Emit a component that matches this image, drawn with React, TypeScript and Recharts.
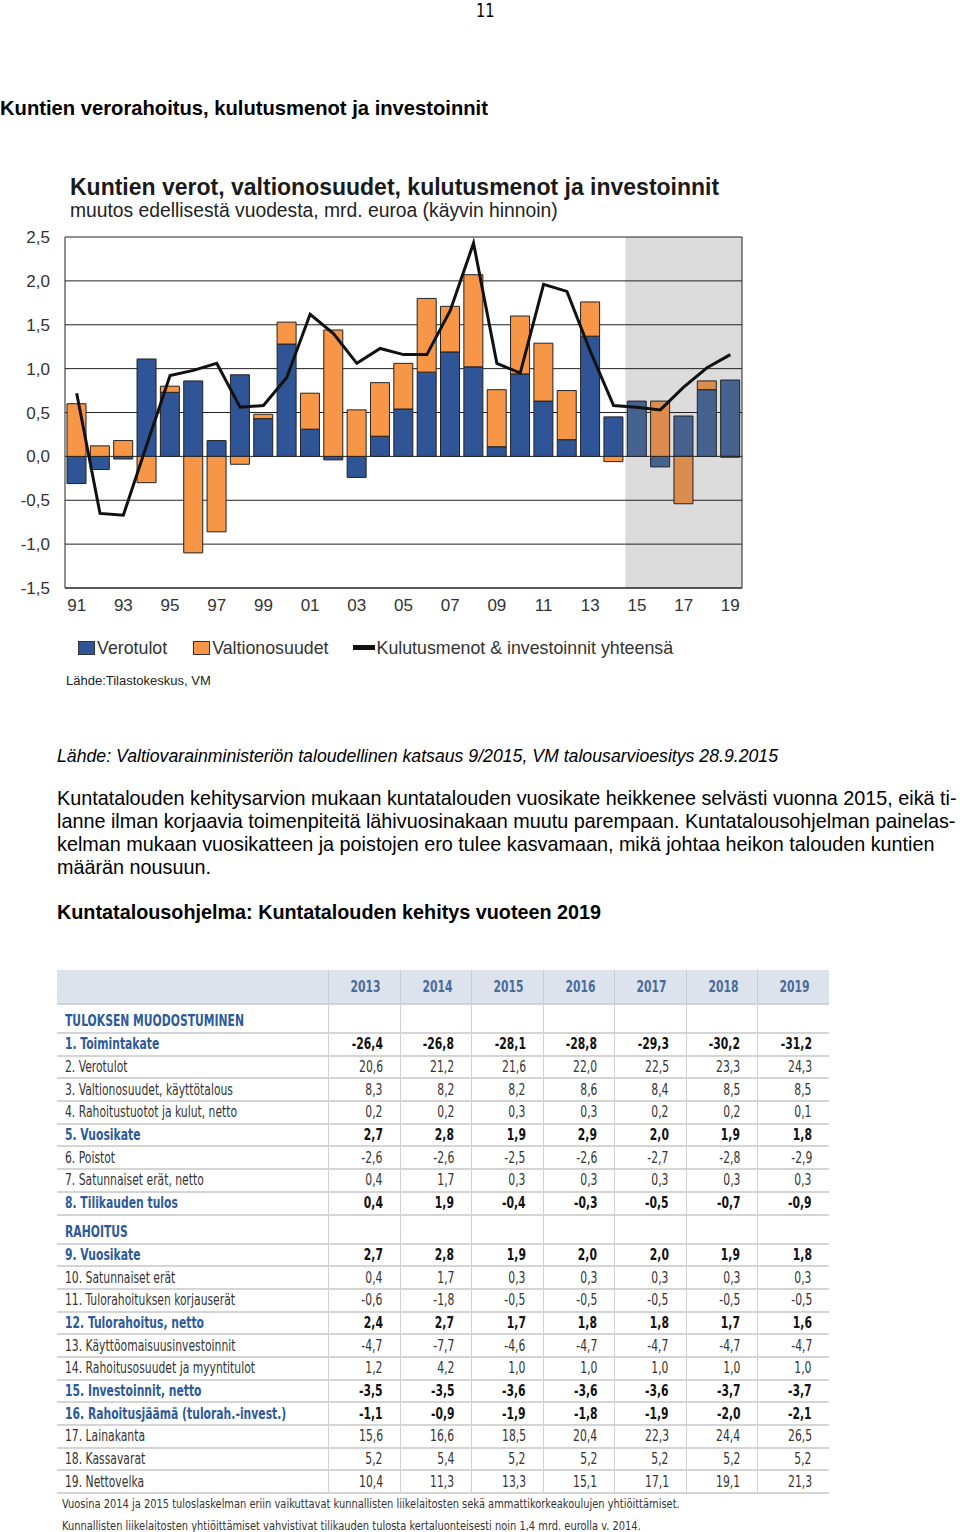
import React from 'react';
import {
  ComposedChart,
  Bar,
  Line,
  Cell,
  XAxis,
  YAxis,
  CartesianGrid,
  ReferenceArea,
} from 'recharts';

// vuodet 1991-2019, kaksinumeroisina
const years = [
  '91', '92', '93', '94', '95', '96', '97', '98', '99', '00',
  '01', '02', '03', '04', '05', '06', '07', '08', '09', '10',
  '11', '12', '13', '14', '15', '16', '17', '18', '19',
];

const verotulot = [
  -0.31, -0.15, -0.03, 1.11, 0.73, 0.86, 0.18, 0.93, 0.43, 1.28,
  0.31, -0.04, -0.24, 0.23, 0.54, 0.96, 1.19, 1.02, 0.11, 0.94,
  0.63, 0.19, 1.37, 0.45, 0.63, -0.12, 0.46, 0.76, 0.87,
];

const valtionosuudet = [
  0.6, 0.12, 0.18, -0.3, 0.07, -1.1, -0.86, -0.09, 0.05, 0.25,
  0.41, 1.44, 0.53, 0.61, 0.52, 0.84, 0.52, 1.05, 0.65, 0.66,
  0.66, 0.56, 0.39, -0.06, 0, 0.63, -0.54, 0.1, -0.01,
];

const kulutusmenot = [
  0.72, -0.65, -0.67, 0.13, 0.92, 0.98, 1.06, 0.56, 0.58, 0.9,
  1.62, 1.4, 1.06, 1.23, 1.16, 1.16, 1.66, 2.43, 1.06, 0.95,
  1.96, 1.88, 1.2, 0.58, 0.56, 0.53, 0.79, 1.01, 1.16,
];

const yTicks = [-1.5, -1, -0.5, 0, 0.5, 1, 1.5, 2, 2.5];
const firstForecast = '15';

const tableYears = ['2013', '2014', '2015', '2016', '2017', '2018', '2019'];

const tulosRows: [string, string[], boolean][] = [
  ['1. Toimintakate', ['-26,4', '-26,8', '-28,1', '-28,8', '-29,3', '-30,2', '-31,2'], true],
  ['2. Verotulot', ['20,6', '21,2', '21,6', '22,0', '22,5', '23,3', '24,3'], false],
  ['3. Valtionosuudet, käyttötalous', ['8,3', '8,2', '8,2', '8,6', '8,4', '8,5', '8,5'], false],
  ['4. Rahoitustuotot ja kulut, netto', ['0,2', '0,2', '0,3', '0,3', '0,2', '0,2', '0,1'], false],
  ['5. Vuosikate', ['2,7', '2,8', '1,9', '2,9', '2,0', '1,9', '1,8'], true],
  ['6. Poistot', ['-2,6', '-2,6', '-2,5', '-2,6', '-2,7', '-2,8', '-2,9'], false],
  ['7. Satunnaiset erät, netto', ['0,4', '1,7', '0,3', '0,3', '0,3', '0,3', '0,3'], false],
  ['8. Tilikauden tulos', ['0,4', '1,9', '-0,4', '-0,3', '-0,5', '-0,7', '-0,9'], true],
];

const rahoitusRows: [string, string[], boolean][] = [
  ['9. Vuosikate', ['2,7', '2,8', '1,9', '2,0', '2,0', '1,9', '1,8'], true],
  ['10. Satunnaiset erät', ['0,4', '1,7', '0,3', '0,3', '0,3', '0,3', '0,3'], false],
  ['11. Tulorahoituksen korjauserät', ['-0,6', '-1,8', '-0,5', '-0,5', '-0,5', '-0,5', '-0,5'], false],
  ['12. Tulorahoitus, netto', ['2,4', '2,7', '1,7', '1,8', '1,8', '1,7', '1,6'], true],
  ['13. Käyttöomaisuusinvestoinnit', ['-4,7', '-7,7', '-4,6', '-4,7', '-4,7', '-4,7', '-4,7'], false],
  ['14. Rahoitusosuudet ja myyntitulot', ['1,2', '4,2', '1,0', '1,0', '1,0', '1,0', '1,0'], false],
  ['15. Investoinnit, netto', ['-3,5', '-3,5', '-3,6', '-3,6', '-3,6', '-3,7', '-3,7'], true],
  ['16. Rahoitusjäämä (tulorah.-invest.)', ['-1,1', '-0,9', '-1,9', '-1,8', '-1,9', '-2,0', '-2,1'], true],
  ['17. Lainakanta', ['15,6', '16,6', '18,5', '20,4', '22,3', '24,4', '26,5'], false],
  ['18. Kassavarat', ['5,2', '5,4', '5,2', '5,2', '5,2', '5,2', '5,2'], false],
  ['19. Nettovelka', ['10,4', '11,3', '13,3', '15,1', '17,1', '19,1', '21,3'], false],
];

const chartData = years.map((yr, i) => ({
  yr,
  vero: verotulot[i],
  valt: valtionosuudet[i],
  kulu: kulutusmenot[i],
}));

const SANS = '"Liberation Sans", Arial, sans-serif';
const NARROW = '"Liberation Sans Narrow", "DejaVu Sans Condensed", "Liberation Sans", sans-serif';
const BLUE = '#2f5597';
const ORANGE = '#f79646';
const BLUE_F = '#46628f';
const ORANGE_F = '#dc8c4e';
const TBL_BLUE = '#2d5a9b';

const fmt = (v: number) => v.toFixed(1).replace('.', ',');
const isForecast = (i: number) => i >= years.indexOf(firstForecast);

function Text({ x, y, size, children, bold, italic, color = '#000', font = SANS, center, squeeze }: any) {
  return (
    <div
      style={{
        position: 'absolute',
        left: center ? 0 : x,
        width: center ? 960 : undefined,
        textAlign: center ? 'center' : 'left',
        top: y - size * 0.6,
        fontSize: size,
        lineHeight: `${size * 1.2}px`,
        fontFamily: font,
        fontWeight: bold ? 'bold' : 'normal',
        fontStyle: italic ? 'italic' : 'normal',
        color,
        whiteSpace: 'nowrap',
        transform: squeeze ? `scaleX(${squeeze})` : undefined,
        transformOrigin: 'left center',
      }}
    >
      {children}
    </div>
  );
}

// kapea teksti taulukkoon
function Narrow({ children, origin = 'left' }: any) {
  return (
    <span style={{ display: 'inline-block', transform: 'scaleX(0.8)', transformOrigin: `${origin} center` }}>
      {children}
    </span>
  );
}

function Swatch({ color }: { color: string }) {
  return (
    <span
      style={{
        display: 'inline-block',
        width: 15,
        height: 12,
        background: color,
        border: '1px solid #333',
        marginRight: 2,
        verticalAlign: -1,
      }}
    />
  );
}

function Chart() {
  const tick = { fill: '#333', fontSize: 17, fontFamily: SANS };
  return (
    <div style={{ position: 'absolute', left: 0, top: 170 }}>
      <ComposedChart
        width={800}
        height={450}
        data={chartData}
        stackOffset="sign"
        margin={{ top: 67, right: 0, bottom: 0, left: 0 }}
      >
        <ReferenceArea
          yAxisId="left"
          x1={firstForecast}
          x2={years[years.length - 1]}
          fill="#dcdcdc"
          fillOpacity={1}
          stroke="none"
          zIndex={-200}
        />
        <CartesianGrid vertical={false} yAxisId="left" stroke="#222" strokeWidth={1} />
        <XAxis
          dataKey="yr"
          interval={1}
          tickLine={false}
          tickSize={0}
          tickMargin={11}
          height={32}
          axisLine={{ stroke: '#222' }}
          tick={tick}
        />
        <YAxis
          yAxisId="left"
          domain={[-1.5, 2.5]}
          ticks={yTicks}
          tickFormatter={fmt}
          tickLine={false}
          tickSize={0}
          tickMargin={15}
          width={65}
          axisLine={{ stroke: '#222' }}
          tick={tick}
        />
        <YAxis
          yAxisId="right"
          orientation="right"
          domain={[-1.5, 2.5]}
          ticks={yTicks}
          tickFormatter={fmt}
          tickLine={false}
          tickSize={0}
          tickMargin={13}
          width={58}
          axisLine={{ stroke: '#222' }}
          tick={{ ...tick, textAnchor: 'start' }}
        />
        <Bar yAxisId="left" dataKey="vero" stackId="a" barSize={19} stroke="#222" strokeWidth={1} isAnimationActive={false}>
          {chartData.map((d, i) => (
            <Cell key={d.yr} fill={isForecast(i) ? BLUE_F : BLUE} />
          ))}
        </Bar>
        <Bar yAxisId="left" dataKey="valt" stackId="a" barSize={19} stroke="#222" strokeWidth={1} isAnimationActive={false}>
          {chartData.map((d, i) => (
            <Cell key={d.yr} fill={isForecast(i) ? ORANGE_F : ORANGE} />
          ))}
        </Bar>
        <Line
          yAxisId="left"
          dataKey="kulu"
          type="linear"
          stroke="#111"
          strokeWidth={3}
          dot={false}
          isAnimationActive={false}
        />
      </ComposedChart>
    </div>
  );
}

const ROW_H = 22.7;
const COL0 = 271;
const COL = 71.57;

function TableRow({ label, values, strong, height = ROW_H, section }: any) {
  return (
    <div style={{ display: 'flex', height, borderBottom: '2px solid #d5d5d5', boxSizing: 'border-box' }}>
      <div
        style={{
          width: COL0,
          paddingLeft: 8,
          boxSizing: 'border-box',
          display: 'flex',
          alignItems: section ? 'flex-end' : 'center',
          paddingBottom: section ? 2 : 0,
          color: strong || section ? TBL_BLUE : '#333',
          fontWeight: section ? 'bold' : strong ? 600 : 'normal',
          whiteSpace: 'nowrap',
        }}
      >
        <Narrow>{label}</Narrow>
      </div>
      {tableYears.map((y, i) => (
        <div
          key={y}
          style={{
            width: COL,
            borderLeft: '1px solid #cfd2d6',
            boxSizing: 'border-box',
            display: 'flex',
            alignItems: 'center',
            justifyContent: 'flex-end',
            paddingRight: 17,
            color: strong ? '#111' : '#333',
            fontWeight: strong ? 'bold' : 'normal',
          }}
        >
          <Narrow origin="right">{values ? values[i] : ''}</Narrow>
        </div>
      ))}
    </div>
  );
}

function Table() {
  return (
    <div style={{ position: 'absolute', left: 57, top: 970, width: 772, fontFamily: NARROW, fontSize: 15 }}>
      <div style={{ display: 'flex', height: 35, background: '#dde3ec', borderBottom: '2px solid #cfd3d8', boxSizing: 'border-box' }}>
        <div style={{ width: COL0 }} />
        {tableYears.map((y) => (
          <div
            key={y}
            style={{
              width: COL,
              borderLeft: '1px solid #c8ccd2',
              boxSizing: 'border-box',
              display: 'flex',
              alignItems: 'center',
              justifyContent: 'flex-end',
              paddingRight: 19,
              color: '#4a6a9c',
              fontWeight: 'bold',
            }}
          >
            <Narrow origin="right">{y}</Narrow>
          </div>
        ))}
      </div>
      <TableRow label="TULOKSEN MUODOSTUMINEN" section height={29} />
      {tulosRows.map(([l, v, s]) => (
        <TableRow key={l} label={l} values={v} strong={s} />
      ))}
      <TableRow label="RAHOITUS" section height={29} />
      {rahoitusRows.map(([l, v, s]) => (
        <TableRow key={l} label={l} values={v} strong={s} />
      ))}
    </div>
  );
}

export default function App() {
  return (
    <div style={{ position: 'absolute', left: 0, top: 0, width: 960, height: 1532, background: '#fff', overflow: 'hidden' }}>
      <Text x={476} y={10} size={19} font={NARROW} squeeze={0.85}>11</Text>
      <Text x={0} y={108} size={20.2} bold>Kuntien verorahoitus, kulutusmenot ja investoinnit</Text>

      <Text x={70} y={188} size={23} bold color="#1a1a1a">Kuntien verot, valtionosuudet, kulutusmenot ja investoinnit</Text>
      <Text x={70} y={211} size={19.3} color="#222">muutos edellisestä vuodesta, mrd. euroa (käyvin hinnoin)</Text>
      <Chart />
      <div
        style={{
          position: 'absolute',
          left: 78,
          top: 637,
          fontFamily: SANS,
          fontSize: 17.8,
          color: '#333',
          whiteSpace: 'nowrap',
          lineHeight: '22px',
        }}
      >
        <Swatch color={BLUE} />
        <span style={{ marginRight: 26 }}>Verotulot</span>
        <Swatch color={ORANGE} />
        <span style={{ marginRight: 24 }}>Valtionosuudet</span>
        <span style={{ display: 'inline-block', width: 22, height: 5, background: '#111', verticalAlign: 4, marginRight: 2 }} />
        <span>Kulutusmenot &amp; investoinnit yhteensä</span>
      </div>
      <Text x={66} y={681} size={13} color="#222">Lähde:Tilastokeskus, VM</Text>

      <Text x={57} y={757} size={17.7} italic>Lähde: Valtiovarainministeriön taloudellinen katsaus 9/2015, VM talousarvioesitys 28.9.2015</Text>
      <Text x={57} y={799} size={19.8}>Kuntatalouden kehitysarvion mukaan kuntatalouden vuosikate heikkenee selvästi vuonna 2015, eikä ti-</Text>
      <Text x={57} y={822} size={19.8}>lanne ilman korjaavia toimenpiteitä lähivuosinakaan muutu parempaan. Kuntatalousohjelman painelas-</Text>
      <Text x={57} y={845} size={19.8}>kelman mukaan vuosikatteen ja poistojen ero tulee kasvamaan, mikä johtaa heikon talouden kuntien</Text>
      <Text x={57} y={868} size={19.8}>määrän nousuun.</Text>
      <Text x={57} y={913} size={19.8} bold>Kuntatalousohjelma: Kuntatalouden kehitys vuoteen 2019</Text>

      <Table />
      <Text x={62} y={1504} size={13} font={NARROW} color="#333" squeeze={0.845}>
        Vuosina 2014 ja 2015 tuloslaskelman eriin vaikuttavat kunnallisten liikelaitosten sekä ammattikorkeakoulujen yhtiöittämiset.
      </Text>
      <Text x={62} y={1526} size={13} font={NARROW} color="#333" squeeze={0.845}>
        Kunnallisten liikelaitosten yhtiöittämiset vahvistivat tilikauden tulosta kertaluonteisesti noin 1,4 mrd. eurolla v. 2014.
      </Text>
    </div>
  );
}
